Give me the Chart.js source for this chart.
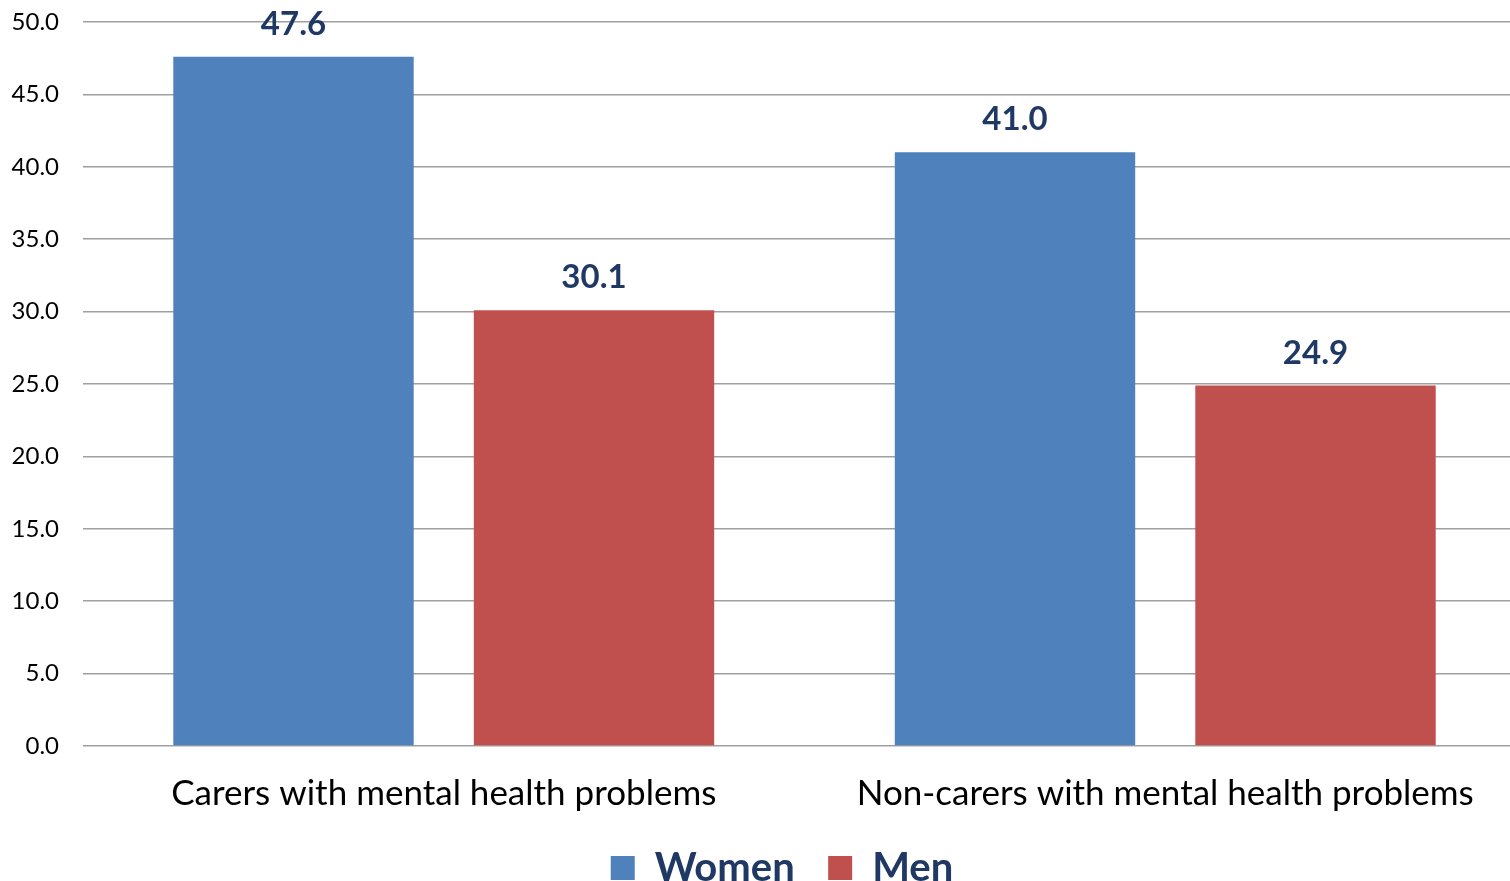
<!DOCTYPE html>
<html>
<head>
<meta charset="utf-8">
<script src="https://cdn.jsdelivr.net/npm/chart.js@4"></script>
<style>
  html, body { margin: 0; padding: 0; background: #fff; overflow: hidden; }
  #wrap { width: 1526px; height: 898px; }
</style>
</head>
<body>
<div id="wrap"><canvas id="chart"></canvas></div>
<script>
// Chart data
const categories = ['Carers with mental health problems', 'Non-carers with mental health problems'];
const women = [47.6, 41.0];
const men = [30.1, 24.9];
const seriesNames = ['Women', 'Men'];

const FONT = 'Lato, "Open Sans", sans-serif';
const LABEL_COLOR = '#1F3864';

// Draw value labels above each bar
const valueLabels = {
    id: 'valueLabels',
    afterDatasetsDraw(chart) {
        const ctx = chart.ctx;
        ctx.save();
        ctx.font = 'bold 33px ' + FONT;
        ctx.fillStyle = LABEL_COLOR;
        ctx.textAlign = 'center';
        ctx.textBaseline = 'bottom';
        chart.data.datasets.forEach((ds, i) => {
            chart.getDatasetMeta(i).data.forEach((bar, j) => {
                ctx.fillText(ds.data[j].toFixed(1), bar.x, bar.y - 16);
            });
        });
        ctx.restore();
    }
};

// Nudge the legend a little to the right, as in the original
const legendShift = {
    id: 'legendShift',
    afterLayout(chart) {
        chart.legend.left += 19;
        chart.legend.right += 19;
    }
};

new Chart(document.getElementById('chart'), {
    type: 'bar',
    data: {
        labels: categories,
        datasets: [
            { label: seriesNames[0], data: women, backgroundColor: '#4F81BD' },
            { label: seriesNames[1], data: men, backgroundColor: '#C0504D' }
        ]
    },
    options: {
        responsive: true,
        maintainAspectRatio: false,
        animation: false,
        categoryPercentage: 0.833,
        barPercentage: 0.8,
        layout: { padding: { top: 22, right: 0, bottom: 0, left: 0 } },
        plugins: {
            legend: {
                position: 'bottom',
                labels: {
                    font: { family: FONT, size: 40, weight: 'bold' },
                    color: LABEL_COLOR,
                    boxWidth: 24,
                    boxHeight: 24,
                    padding: 14,
                    generateLabels(chart) {
                        // extra spacing between the two legend entries
                        const items = Chart.defaults.plugins.legend.labels.generateLabels(chart);
                        items[0].text += '  ';
                        return items;
                    }
                }
            },
            tooltip: { enabled: false }
        },
        scales: {
            x: {
                grid: { display: false },
                border: { display: false },
                ticks: {
                    font: { family: FONT, size: 35 },
                    color: '#000',
                    padding: 19
                }
            },
            y: {
                min: 0,
                max: 50,
                afterFit(scale) {
                    scale.width = 83;
                    scale.paddingTop = 0;
                    scale.paddingBottom = 0;
                },
                grid: { color: '#A0A0A0', lineWidth: 1.5, drawTicks: false },
                border: { display: false },
                ticks: {
                    stepSize: 5,
                    font: { family: FONT, size: 24 },
                    color: '#000',
                    padding: 24,
                    callback: v => v.toFixed(1)
                }
            }
        }
    },
    plugins: [valueLabels, legendShift]
});
</script>
</body>
</html>
